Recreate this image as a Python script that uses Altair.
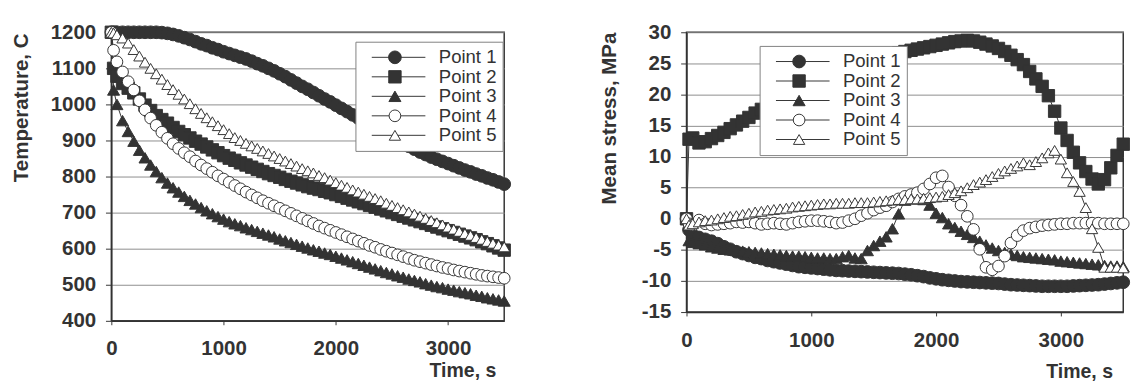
import altair as alt
import pandas as pd

# ---------------- data ----------------
TIME = [0, 20, 50, 100, 150, 200, 250, 300, 350, 400,
        450, 500, 550, 600, 650, 700, 750, 800, 850, 900,
        950, 1000, 1050, 1100, 1150, 1200, 1250, 1300, 1350, 1400,
        1450, 1500, 1550, 1600, 1650, 1700, 1750, 1800, 1850, 1900,
        1950, 2000, 2050, 2100, 2150, 2200, 2250, 2300, 2350, 2400,
        2450, 2500, 2550, 2600, 2650, 2700, 2750, 2800, 2850, 2900,
        2950, 3000, 3050, 3100, 3150, 3200, 3250, 3300, 3350, 3400,
        3450, 3500]

SERIES = ["Point 1", "Point 2", "Point 3", "Point 4", "Point 5"]

TEMP_P1 = [1200, 1200, 1200, 1200, 1200, 1200, 1200, 1200, 1200, 1200,
           1199, 1197, 1194, 1190, 1185, 1180, 1174, 1168, 1163, 1157,
           1152, 1146, 1141, 1136, 1131, 1126, 1120, 1113, 1107, 1100,
           1093, 1085, 1077, 1068, 1059, 1050, 1042, 1033, 1024, 1015,
           1007, 998, 989, 980, 971, 962, 953, 944, 935, 927,
           918, 910, 901, 893, 884, 876, 868, 861, 854, 848,
           842, 836, 830, 824, 818, 813, 807, 802, 796, 791,
           785, 779]
TEMP_P2 = [1200, 1100, 1078, 1058, 1045, 1032, 1015, 998, 983, 969,
           958, 948, 936, 925, 916, 907, 898, 890, 882, 874,
           866, 858, 851, 845, 838, 832, 826, 820, 814, 808,
           803, 798, 792, 787, 782, 777, 772, 768, 764, 759,
           755, 750, 745, 740, 735, 730, 725, 720, 715, 710,
           705, 700, 695, 690, 685, 680, 675, 670, 665, 660,
           655, 650, 645, 640, 635, 630, 625, 619, 614, 608,
           602, 596]
TEMP_P3 = [1200, 1040, 1000, 955, 925, 898, 873, 852, 832, 814,
           797, 782, 769, 757, 745, 734, 724, 714, 705, 697,
           689, 682, 675, 669, 664, 658, 653, 648, 643, 638,
           633, 627, 622, 617, 612, 607, 602, 597, 593, 588,
           584, 579, 574, 569, 564, 559, 554, 549, 544, 539,
           534, 530, 525, 521, 516, 512, 508, 503, 499, 495,
           492, 488, 485, 481, 478, 475, 471, 468, 464, 461,
           458, 455]
TEMP_P4 = [1200, 1150, 1118, 1090, 1063, 1040, 1010, 985, 962, 942,
           923, 906, 891, 878, 866, 855, 843, 832, 822, 812,
           802, 793, 784, 775, 766, 757, 749, 741, 733, 726,
           719, 712, 705, 698, 691, 684, 677, 670, 663, 657,
           651, 645, 639, 633, 627, 621, 615, 609, 604, 598,
           593, 588, 583, 578, 573, 568, 564, 560, 556, 552,
           548, 545, 541, 538, 535, 532, 529, 526, 524, 522,
           520, 518]
TEMP_P5 = [1200, 1198, 1193, 1184, 1170, 1152, 1134, 1117, 1100, 1085,
           1070, 1055, 1041, 1028, 1015, 1002, 988, 975, 963, 952,
           941, 930, 919, 908, 900, 892, 885, 878, 871, 864,
           857, 850, 843, 836, 829, 822, 816, 810, 803, 797,
           790, 783, 776, 770, 763, 757, 751, 745, 739, 733,
           726, 720, 714, 708, 702, 696, 690, 684, 678, 672,
           666, 660, 654, 648, 642, 637, 631, 626, 620, 615,
           610, 605]

STRESS_P1 = [0, -1.8, -2.6, -3.0, -3.3, -3.6, -4.0, -4.5, -4.9, -5.3,
             -5.6, -5.9, -6.2, -6.4, -6.7, -6.9, -7.1, -7.3, -7.5, -7.7,
             -7.8, -7.9, -8.0, -8.1, -8.2, -8.3, -8.35, -8.4, -8.45, -8.5,
             -8.55, -8.6, -8.65, -8.7, -8.75, -8.8, -8.9, -9.0, -9.15, -9.3,
             -9.5, -9.65, -9.8, -9.9, -10.0, -10.1, -10.15, -10.2, -10.25, -10.3,
             -10.35, -10.4, -10.5, -10.6, -10.65, -10.7, -10.75, -10.8, -10.85, -10.85,
             -10.85, -10.85, -10.85, -10.8, -10.75, -10.7, -10.65, -10.6, -10.5, -10.4,
             -10.3, -10.2]
STRESS_P2 = [0, 12.8, 13.0, 12.2, 12.4, 12.9, 13.4, 13.9, 14.5, 15.1,
             15.7, 16.3, 17.0, 17.6, 18.3, 18.9, 19.5, 20.1, 20.6, 21.1,
             21.6, 22.1, 22.5, 23.0, 23.4, 23.8, 24.2, 24.5, 24.9, 25.2,
             25.5, 25.8, 26.0, 26.3, 26.5, 26.7, 26.9, 27.1, 27.3, 27.5,
             27.7, 27.9, 28.1, 28.3, 28.5, 28.6, 28.7, 28.6, 28.4, 28.1,
             27.8, 27.4, 26.9, 26.3, 25.6, 24.8, 23.7, 22.5, 21.3, 19.8,
             17.3, 14.6, 12.6, 10.7, 9.0, 7.6, 6.4, 5.6, 6.3, 8.2,
             10.2, 12.0]
STRESS_P3 = [0, -3.5, -3.8, -4.0, -4.2, -4.5, -4.7, -4.9, -5.0, -5.1,
             -5.2, -5.3, -5.4, -5.5, -5.6, -5.7, -5.8, -5.9, -6.0, -6.0,
             -6.1, -6.2, -6.3, -6.3, -6.4, -6.4, -6.1, -5.9, -6.3, -6.4,
             -5.1, -4.3, -3.6, -2.9, -1.6, 0.8, 3.0, 3.2, 3.5, 3.1,
             2.2, 0.9, 0.2, -0.8, -1.4, -2.0, -2.5, -3.0, -3.6, -4.2,
             -4.7, -5.1, -5.4, -5.7, -5.9, -6.1, -6.2, -6.3, -6.4, -6.5,
             -6.6, -6.8, -6.9, -7.0, -7.1, -7.2, -7.3, -7.4, -7.5, -7.6,
             -7.6, -7.7]
STRESS_P4 = [0, -0.8, -1.0, -0.2, -0.8, -1.0, -0.9, -0.8, -0.7, -0.5,
             -0.6, -0.5, -0.7, -0.9, -0.8, -0.7, -0.8, -0.9, -0.7, -0.5,
             -0.4, -0.3, -0.3, -0.4, -0.5, -0.7, -0.6, -0.3, 0.0, 0.5,
             0.9, 1.4, 1.8, 2.1, 2.7, 3.2, 3.6, 3.9, 4.2, 4.8,
             5.6, 6.6, 6.9, 5.1, 3.7, 2.2, 0.4, -1.7, -4.9, -7.8,
             -8.2, -7.6, -6.0, -3.9, -2.7, -1.9, -1.5, -1.3, -1.1, -1.0,
             -0.9, -0.8, -0.8, -0.7, -0.7, -0.7, -0.7, -0.7, -0.8, -0.8,
             -0.8, -0.8]
STRESS_P5 = [0, -1.0, -0.8, -0.5, -0.3, -0.2, 0.0, 0.2, 0.4, 0.5,
             0.7, 0.9, 1.1, 1.2, 1.4, 1.5, 1.6, 1.7, 1.9, 2.0,
             2.1, 2.2, 2.3, 2.4, 2.4, 2.5, 2.5, 2.5, 2.6, 2.6,
             2.6, 2.7, 2.8, 2.9, 3.0, 3.1, 3.1, 3.2, 3.2, 3.3,
             3.4, 3.5, 3.6, 3.9, 4.2, 4.5, 5.0, 5.5, 5.9, 6.3,
             6.8, 7.3, 7.7, 8.1, 8.5, 9.0, 8.7, 9.2, 9.8, 10.6,
             11.0, 9.6, 7.4, 6.0, 4.4, 1.8, -1.6, -4.6, -7.8, -7.8,
             -7.8, -7.9]

TEMP_TICKS = [400, 500, 600, 700, 800, 900, 1000, 1100, 1200]
STRESS_TICKS = [-15, -10, -5, 0, 5, 10, 15, 20, 25, 30]
TIME_TICKS = [0, 1000, 2000, 3000]


def long_table(columns):
    rows = []
    for name, vals in zip(SERIES, columns):
        for t, v in zip(TIME, vals):
            rows.append({"t": t, "v": v, "series": name, "series_l": name})
    return pd.DataFrame(rows)


temp_df = long_table([TEMP_P1, TEMP_P2, TEMP_P3, TEMP_P4, TEMP_P5])
stress_df = long_table([STRESS_P1, STRESS_P2, STRESS_P3, STRESS_P4, STRESS_P5])

# ---------------- styling ----------------
INK = "#333333"
FONT = "Liberation Sans"

shape_scale = alt.Scale(domain=SERIES, range=["circle", "square", "triangle-up", "circle", "triangle-up"])
fill_scale = alt.Scale(domain=SERIES, range=[INK, INK, INK, "white", "white"])
stroke_scale = alt.Scale(domain=SERIES, range=[INK, INK, INK, INK, INK])
size_scale = alt.Scale(domain=SERIES, range=[170, 135, 60, 110, 80])
# data-driven domain so that this legend is kept apart from the marker legend
line_scale = alt.Scale(range=[INK, INK, INK, INK, INK])


def panel(df, ydomain, yticks, ytitle, w, h, ytx, yty, xtx, xty, lx, ly):
    x = alt.X("t:Q", scale=alt.Scale(domain=[0, 3500], nice=False, zero=False),
              axis=alt.Axis(values=TIME_TICKS, title="Time, s", grid=False,
                            titleX=xtx, titleY=xty, titleAlign="right",
                            titleBaseline="middle", titleFontSize=20,
                            tickSize=4, labelPadding=14, labelFlush=False,
                            labelOverlap=False, format="d"))
    y = alt.Y("v:Q", scale=alt.Scale(domain=ydomain, nice=False, zero=False),
              axis=alt.Axis(values=yticks, title=ytitle, grid=True,
                            titleX=ytx, titleY=yty, titleAlign="center",
                            titleBaseline="middle", titleAngle=-90,
                            tickSize=6, labelPadding=10, labelFlush=False,
                            labelOverlap=False, labelExpr="toString(datum.value)"))
    # legend 1 (below): frame, line samples and the visible labels
    line_legend = alt.Legend(title=None, orient="none", legendX=lx, legendY=ly,
                             symbolType="M-10,0H10", symbolSize=30.25,
                             symbolStrokeWidth=1, symbolOffset=28.75,
                             labelOffset=31.75, clipHeight=20, rowPadding=0,
                             fillColor="white", strokeColor="#808080",
                             padding=6, labelFontSize=19, zindex=1)
    # legend 2 (on top): the markers only
    point_legend = alt.Legend(title=None, orient="none", legendX=lx, legendY=ly,
                              symbolOffset=25.0, labelExpr="''",
                              clipHeight=20, rowPadding=0, padding=6,
                              symbolStrokeWidth=1, labelFontSize=19, zindex=2)
    lines = alt.Chart().mark_line(strokeWidth=1).encode(
        color=alt.Color("series_l:N", scale=line_scale, legend=line_legend),
    )
    points = alt.Chart().mark_point(filled=True, strokeWidth=1, opacity=1).encode(
        fill=alt.Fill("series:N", scale=fill_scale, legend=point_legend),
        stroke=alt.Stroke("series:N", scale=stroke_scale, legend=point_legend),
        shape=alt.Shape("series:N", scale=shape_scale, legend=point_legend),
        size=alt.Size("series:N", scale=size_scale, legend=point_legend),
    )
    return alt.layer(lines, points, data=df).encode(x=x, y=y).properties(width=w, height=h)


left = panel(temp_df, [400, 1200], TEMP_TICKS, "Temperature, C",
             403, 296, -91.6, 77, 394.4, 51, 250.4, 9.7)
right = panel(stress_df, [-15, 30], STRESS_TICKS, "Mean stress, MPa",
              448, 287, -79.3, 88, 437, 61.5, 75, 14)

chart = alt.hconcat(left, right, spacing=85).resolve_scale(
    color="independent", fill="independent", stroke="independent",
    shape="independent", size="independent"
).properties(
    padding={"left": 2, "top": 8, "right": 0, "bottom": 0}
).configure(
    font=FONT,
).configure_view(
    stroke=INK, strokeWidth=1.5
).configure_axis(
    domainColor=INK, domainWidth=1.5, tickColor=INK, tickWidth=1,
    labelFont=FONT, labelFontSize=21, labelFontWeight="bold", labelColor=INK,
    titleFont=FONT, titleFontSize=21, titleFontWeight="bold", titleColor=INK,
    gridColor="#8c8c8c", gridWidth=1,
).configure_legend(
    labelFont=FONT, labelColor=INK, labelFontSize=19,
)

chart.save("out.html", embed_options={"renderer": "svg", "actions": False})
